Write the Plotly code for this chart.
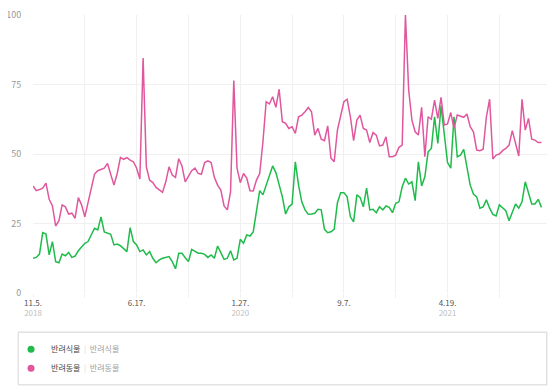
import pandas as pd
import plotly.graph_objects as go

# ---- data (weekly index, 2018-11-05 .. 2021-11-08) ----
start_date = "2018-11-05"
n_weeks = 158

plants = [12.5, 12.8, 14, 21.7, 21.2, 13.7, 18.5, 11.3, 10.9, 14,
          13.4, 14.6, 12.8, 13.3, 15.2, 16.7, 17.9, 18.5, 20.9, 23.3,
          22.7, 27.4, 22, 21.5, 21.1, 17.3, 17.6, 17, 16.1, 14.9,
          23.5, 18.5, 17.3, 14.9, 15.5, 13.7, 14.9, 12.5, 10.9, 11.9,
          12.5, 12.8, 13.1, 11.3, 8.7, 14.3, 14.3, 12.7, 11.3, 15.7,
          14.9, 14.3, 14.3, 13.9, 12.8, 13.7, 12.5, 16.9, 14.5, 12.1,
          12.5, 15.2, 11.9, 12.5, 19.3, 17.9, 20.9, 20.5, 22, 29.2,
          36.8, 35.3, 38.5, 42.4, 45.7, 43.3, 38.8, 34.6, 28.4, 31,
          32, 47.2, 38.8, 32.8, 29.9, 28.3, 28.4, 28.7, 30.1, 29.9,
          22.9, 21.7, 22, 22.9, 32.5, 36.1, 36.1, 34.6, 27.4, 25.6,
          35.3, 34.4, 31, 37.7, 29.9, 30.1, 28.9, 31, 29.9, 31.3,
          30.8, 28.9, 32.3, 32.8, 38.2, 41.3, 39.2, 40, 33.2, 47.2,
          38.5, 41.8, 50.8, 52, 63.4, 53.8, 67.3, 56.2, 46.9, 44.9,
          63.4, 49, 49.6, 51.7, 45.4, 38.8, 35.6, 34.6, 30.5, 31,
          33.5, 30.5, 28.3, 27.7, 31.7, 30.5, 29.6, 26, 29.2, 32,
          30.5, 32.8, 40, 35.9, 32, 32, 33.7, 30.8]

pets = [38.5, 36.8, 37.2, 37.7, 39.5, 33.7, 31.3, 24.1, 26, 31.7,
        31, 28.4, 28.7, 26.9, 34.3, 31.7, 27.4, 32.3, 37, 42.8,
        44, 44.5, 44.9, 46.6, 42.4, 38.8, 43, 48.8, 48.1, 48.7,
        47.8, 47.2, 44.9, 41, 84.5, 45.4, 40.6, 39.7, 38, 37,
        36.2, 40, 45.4, 42.4, 41.6, 48.3, 45.7, 40, 41.8, 44,
        44.9, 43, 42.7, 46.9, 47.5, 46.9, 41.6, 38.8, 37, 31.3,
        29.9, 36.4, 76.4, 44.9, 39.7, 43, 41.3, 36.8, 36.7, 40.6,
        43, 54.4, 68.8, 68, 70.6, 66.8, 73.3, 61.6, 61, 59.2,
        59.8, 57.4, 63.4, 64, 65.2, 66.7, 65.2, 56.8, 59.2, 55.3,
        54.8, 60.1, 48.5, 47.2, 58.6, 64, 68.8, 69.7, 63.4, 54.8,
        62.2, 64, 59.2, 58.6, 54.1, 57.7, 56.8, 52.9, 53.2, 56.2,
        49, 49, 49.6, 52.4, 53.2, 100, 73, 62.2, 58, 56.8,
        66.8, 49, 63.4, 62.5, 69.4, 62.8, 70.4, 60.4, 60.8, 64.9,
        59.2, 64, 63.7, 63.2, 64.4, 59.8, 58, 51.4, 51.2, 51.7,
        63.4, 69.7, 48.2, 49.6, 50, 51.2, 52, 53.2, 58.4, 54.1,
        49.3, 69.7, 58.6, 62.8, 55.3, 55, 54.1, 54.1]

series_names = ["반려식물", "반려동물"]
series_colors = ["#1fbb4b", "#e0579d"]

tick_dates = ["2018-11-05", "2019-06-17", "2020-01-27", "2020-09-07", "2021-04-19"]
tick_days = ["11.5.", "6.17.", "1.27.", "9.7.", "4.19."]
tick_years = ["2018", "", "2020", "", "2021"]
minor_dates = ["2019-02-25", "2019-10-07", "2020-05-18", "2020-12-28", "2021-08-09"]
y_ticks = [0, 25, 50, 75, 100]

dates = pd.date_range(start_date, periods=n_weeks, freq="7D")

FONT = "Noto Sans CJK KR"
GRID = "#f0f0f0"
FRAME = "#e2e2e2"

fig = go.Figure()
for name, vals, col in zip(series_names, [plants, pets], series_colors):
    fig.add_trace(go.Scatter(x=dates, y=vals, mode="lines", name=name,
                             line=dict(color=col, width=1.5),
                             showlegend=False, hoverinfo="skip"))

# legend entries: circle symbol + "name | keyword"
for name, col in zip(series_names, series_colors):
    fig.add_trace(go.Scatter(
        x=[None], y=[None], mode="markers",
        marker=dict(color=col, size=7, symbol="circle"),
        name=(f"<span style='color:#444'>{name}</span>"
              f"<span style='color:#dcdcdc'>  |  </span>"
              f"<span style='color:#a0a0a0'>{name}</span>"),
        showlegend=True))

ticktext = [d if not y else f"{d}<br><span style='color:#c0c0c0'>{y}</span>"
            for d, y in zip(tick_days, tick_years)]

# the page body has an 8px margin; the figure is sized to end at the window edge
fig.update_layout(
    width=551, height=384,
    margin=dict(l=25, r=12, t=7, b=99, autoexpand=False),
    paper_bgcolor="white", plot_bgcolor="white",
    font=dict(family=FONT, size=8, color="#555"),
    xaxis=dict(
        type="date", range=["2018-11-05", "2021-11-20"],
        tickvals=tick_dates, ticktext=ticktext,
        showgrid=True, gridcolor=GRID, gridwidth=1,
        ticks="outside", ticklen=4, tickcolor=GRID,
        ticklabelstandoff=-2,
        tickfont=dict(size=8, color="#555"),
        minor=dict(tickvals=minor_dates, showgrid=True, gridcolor=GRID,
                   ticks="outside", ticklen=4, tickcolor=GRID),
        showline=False, zeroline=False, fixedrange=True,
    ),
    yaxis=dict(
        range=[0, 100], tickvals=y_ticks,
        showgrid=True, gridcolor=GRID, gridwidth=1,
        zeroline=False, showline=False,
        ticks="outside", ticklen=9, tickcolor="rgba(0,0,0,0)",
        tickfont=dict(size=9, color="#999"),
        fixedrange=True,
    ),
    legend=dict(
        xref="container", yref="container",
        x=0.0055, xanchor="left", y=0.149, yanchor="top",
        bgcolor="rgba(255,255,255,0)", borderwidth=0,
        font=dict(family=FONT, size=8),
        itemwidth=30, tracegroupgap=0,
    ),
    shapes=[dict(type="rect", xref="paper", yref="paper",
                 x0=-0.029, x1=1.0, y0=-0.331, y1=-0.140,
                 line=dict(color=FRAME, width=1),
                 fillcolor="rgba(0,0,0,0)", layer="above")],
    annotations=[dict(xref="paper", yref="paper", x=0.4854, y=-0.2356,
                      xanchor="center", yanchor="middle",
                      text="&nbsp;", showarrow=False,
                      width=527, height=51, borderpad=0,
                      bordercolor=FRAME, borderwidth=1,
                      bgcolor="rgba(0,0,0,0)")],
)

fig.write_html("out.html")
